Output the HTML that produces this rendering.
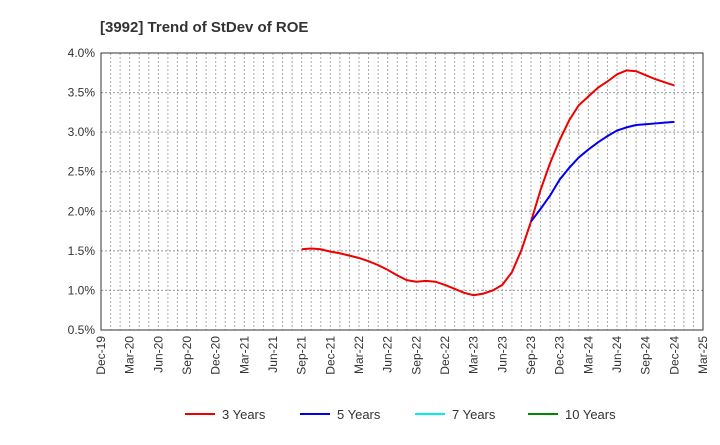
<!DOCTYPE html>
<html><head><meta charset="utf-8"><style>
body{margin:0;background:#fff;font-family:"Liberation Sans",Arial,sans-serif}
svg text{font-family:"Liberation Sans",Arial,sans-serif}
</style></head><body>
<svg id="c" width="720" height="440" xmlns="http://www.w3.org/2000/svg">
<text x="100" y="32" font-size="15" font-weight="bold" fill="#333">[3992]  Trend of StDev of ROE</text>
<g id="grid"></g><g id="axes"></g><g id="series"></g><g id="legend"></g>
</svg>
<script>
const xLabels=["Dec-19","Mar-20","Jun-20","Sep-20","Dec-20","Mar-21","Jun-21","Sep-21","Dec-21","Mar-22","Jun-22","Sep-22","Dec-22","Mar-23","Jun-23","Sep-23","Dec-23","Mar-24","Jun-24","Sep-24","Dec-24","Mar-25"];
const yTicks=[0.5,1.0,1.5,2.0,2.5,3.0,3.5,4.0];
const red3Start=21;
const red3=[1.52,1.53,1.52,1.49,1.47,1.44,1.41,1.37,1.32,1.26,1.19,1.13,1.11,1.12,1.11,1.07,1.02,0.97,0.94,0.96,1.00,1.07,1.23,1.51,1.87,2.27,2.61,2.90,3.15,3.34,3.45,3.56,3.64,3.73,3.78,3.77,3.72,3.67,3.63,3.59];
const blue5Start=45;
const blue5=[1.87,2.03,2.20,2.40,2.55,2.68,2.78,2.87,2.95,3.02,3.06,3.09,3.10,3.11,3.12,3.13];
const L=101,R=703,T=53,B=330,NM=63;
const ns="http://www.w3.org/2000/svg";
const X=m=>L+(R-L)*m/NM, Y=v=>B-(v-0.5)/3.5*(B-T);
function mk(t,a,p){const e=document.createElementNS(ns,t);for(const k in a)e.setAttribute(k,a[k]);p.appendChild(e);return e;}
const g=document.getElementById('grid'),ax=document.getElementById('axes'),s=document.getElementById('series'),lg=document.getElementById('legend');
for(let m=1;m<NM;m++){const l=mk('line',{x1:X(m),x2:X(m),y1:T,y2:B,stroke:'#aaa','stroke-dasharray':'2,2','stroke-width':1},g);

}
yTicks.forEach(v=>{const l=mk('line',{x1:L,x2:R,y1:Y(v),y2:Y(v),stroke:'#999','stroke-dasharray':'2,2'},g);


const t=mk('text',{x:L-6,y:Y(v)+4,'font-size':12,'text-anchor':'end',fill:'#333'},ax);t.textContent=v.toFixed(1)+'%';

});
const fr=mk('rect',{x:L,y:T,width:R-L,height:B-T,fill:'none',stroke:'#333'},ax);


xLabels.forEach((lab,i)=>{const x=X(i*3);const t=mk('text',{x:x+4,y:B+6,'font-size':12,'text-anchor':'end',fill:'#333',transform:`rotate(-90 ${x+4} ${B+6})`},ax);t.textContent=lab;

});
function line(arr,start,col,name){const p=mk('polyline',{points:arr.map((v,i)=>X(start+i)+','+Y(v)).join(' '),fill:'none',stroke:col,'stroke-width':2},s);

}
line(red3,red3Start,'#e00','series-3-years');
line(blue5,blue5Start,'#00e','series-5-years');
[["3 Years","#e00",185],["5 Years","#00e",300],["7 Years","#0ee",415],["10 Years","#080",528]].forEach(([n,c,x])=>{
const l=mk('line',{x1:x,x2:x+30,y1:414,y2:414,stroke:c,'stroke-width':2},lg);


const t=mk('text',{x:x+37,y:419,'font-size':13,fill:'#333'},lg);t.textContent=n;

});
</script>
</body></html>
